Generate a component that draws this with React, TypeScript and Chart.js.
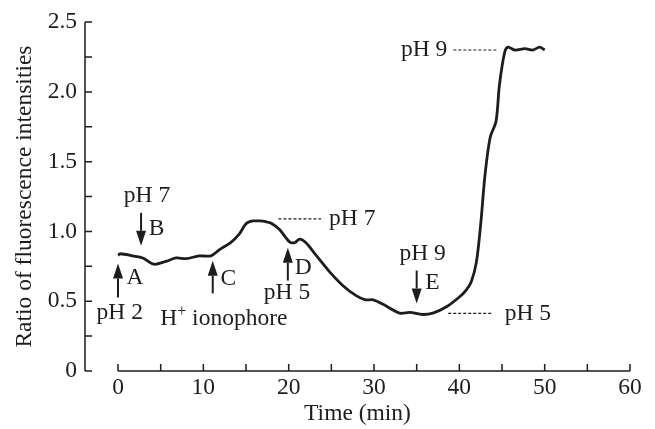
import React, { useEffect, useRef } from 'react';
import { Chart, registerables } from 'chart.js';
Chart.register(...registerables);

// ---- data ----
const times = [0, 0.3, 1.7, 2.9, 4.2, 5.6, 6.8, 8.0, 9.5, 10.9, 11.9, 13.2, 14.2, 15.0, 15.8, 16.6, 17.3, 17.9, 18.9, 20.1, 20.7, 21.3, 22.0, 23.2, 24.8, 26.3, 27.9, 29.0, 29.9, 31.0, 33.0, 34.2, 35.7, 36.9, 38.5, 40.0, 40.8, 41.4, 42.0, 42.5, 43.0, 43.6, 44.3, 44.7, 45.3, 45.7, 46.5, 47.7, 48.6, 49.4, 50.0];
const ratios = [0.83, 0.84, 0.825, 0.81, 0.765, 0.785, 0.81, 0.805, 0.825, 0.825, 0.87, 0.92, 0.98, 1.055, 1.075, 1.075, 1.07, 1.06, 1.015, 0.925, 0.92, 0.945, 0.92, 0.83, 0.71, 0.615, 0.54, 0.51, 0.51, 0.48, 0.415, 0.42, 0.405, 0.415, 0.46, 0.53, 0.58, 0.64, 0.78, 1.05, 1.4, 1.67, 1.79, 2.05, 2.28, 2.32, 2.30, 2.31, 2.30, 2.32, 2.30];

const xTicks = [0, 5, 10, 15, 20, 25, 30, 35, 40, 45, 50, 55, 60];
const yTicks = [0, 0.25, 0.5, 0.75, 1.0, 1.25, 1.5, 1.75, 2.0, 2.25, 2.5];

// arrows: time, tail value, tip value
const arrowTimes = [0, 2.7, 11.1, 19.9, 35.0];
const arrowTails = [0.527, 1.133, 0.556, 0.648, 0.72];
const arrowTips = [0.77, 0.897, 0.79, 0.883, 0.484];
const arrowLetters = ['A', 'B', 'C', 'D', 'E'];
const letterTimes = [1.0, 3.6, 12.0, 20.7, 36.0];
const letterValues = [0.67, 1.02, 0.662, 0.74, 0.634];

// centered labels
const labelTexts = ['pH 2', 'pH 7', 'pH 5', 'pH 9'];
const labelTimes = [0.2, 3.4, 19.8, 35.7];
const labelValues = [0.42, 1.254, 0.563, 0.84];
const ionophoreTime = 12.4;
const ionophoreValue = 0.377;

// dashed reference levels
const levelTexts = ['pH 7', 'pH 5', 'pH 9'];
const levelValues = [1.09, 0.413, 2.30];
const levelStarts = [18.8, 38.7, 39.3];
const levelEnds = [23.8, 43.8, 44.5];
const levelTextSide = ['right', 'right', 'left'];
const levelTextGap = [8, 13, 6];

const FONT = '"Liberation Serif", "Times New Roman", serif';
const INK = '#1e1c1d';
const FS = 23.5;

const overlay = {
  id: 'overlay',
  afterDraw(chart: any) {
    const { ctx, scales } = chart;
    const xs = scales.x;
    const ys = scales.y;
    const X = (v: number) => xs.getPixelForValue(v);
    const Y = (v: number) => ys.getPixelForValue(v);
    ctx.save();
    ctx.strokeStyle = INK;
    ctx.fillStyle = INK;
    ctx.lineWidth = 1.5;
    // y axis
    const ax = chart.chartArea.left;
    ctx.beginPath();
    ctx.moveTo(ax, Y(2.5));
    ctx.lineTo(ax, Y(0));
    yTicks.forEach((v) => {
      ctx.moveTo(ax, Y(v));
      ctx.lineTo(ax + 7, Y(v));
    });
    // x axis
    const y0 = Y(0);
    ctx.moveTo(X(0), y0);
    ctx.lineTo(X(60), y0);
    xTicks.forEach((v) => {
      ctx.moveTo(X(v), y0);
      ctx.lineTo(X(v), y0 - 7);
    });
    ctx.stroke();

    // arrows
    ctx.lineWidth = 2;
    arrowTimes.forEach((t, i) => {
      const x = X(t);
      const yt = Y(arrowTails[i]);
      const yp = Y(arrowTips[i]);
      const dir = yp < yt ? -1 : 1;
      const hl = 15;
      const hw = 5;
      ctx.beginPath();
      ctx.moveTo(x, yt);
      ctx.lineTo(x, yp - dir * hl);
      ctx.stroke();
      ctx.beginPath();
      ctx.moveTo(x, yp);
      ctx.lineTo(x - hw, yp - dir * hl);
      ctx.lineTo(x + hw, yp - dir * hl);
      ctx.closePath();
      ctx.fill();
    });

    ctx.font = `${FS}px ${FONT}`;
    ctx.textBaseline = 'middle';
    ctx.textAlign = 'left';
    arrowLetters.forEach((s, i) => {
      ctx.fillText(s, X(letterTimes[i]), Y(letterValues[i]));
    });
    ctx.textAlign = 'center';
    labelTexts.forEach((s, i) => {
      ctx.fillText(s, X(labelTimes[i]), Y(labelValues[i]));
    });
    // H+ ionophore
    {
      const main1 = 'H';
      const sup = '+';
      const main2 = ' ionophore';
      const supSize = Math.round(FS * 0.7);
      ctx.font = `${FS}px ${FONT}`;
      const w1 = ctx.measureText(main1).width;
      const w3 = ctx.measureText(main2).width;
      ctx.font = `${supSize}px ${FONT}`;
      const w2 = ctx.measureText(sup).width;
      const total = w1 + w2 + w3;
      let x = X(ionophoreTime) - total / 2;
      const y = Y(ionophoreValue);
      ctx.textAlign = 'left';
      ctx.font = `${FS}px ${FONT}`;
      ctx.fillText(main1, x, y);
      x += w1;
      ctx.font = `${supSize}px ${FONT}`;
      ctx.fillText(sup, x, y - 7);
      x += w2;
      ctx.font = `${FS}px ${FONT}`;
      ctx.fillText(main2, x, y);
    }
    // dashed levels
    ctx.lineWidth = 1.2;
    ctx.setLineDash([3, 2]);
    levelValues.forEach((v, i) => {
      ctx.beginPath();
      ctx.moveTo(X(levelStarts[i]), Y(v));
      ctx.lineTo(X(levelEnds[i]), Y(v));
      ctx.stroke();
    });
    ctx.setLineDash([]);
    levelTexts.forEach((s, i) => {
      if (levelTextSide[i] === 'right') {
        ctx.textAlign = 'left';
        ctx.fillText(s, X(levelEnds[i]) + levelTextGap[i], Y(levelValues[i]));
      } else {
        ctx.textAlign = 'right';
        ctx.fillText(s, X(levelStarts[i]) - levelTextGap[i], Y(levelValues[i]));
      }
    });
    ctx.restore();
  },
};

export default function App() {
  const ref = useRef<HTMLCanvasElement | null>(null);
  useEffect(() => {
    if (!ref.current) return;
    const chart = new Chart(ref.current, {
      type: 'line',
      data: {
        datasets: [
          {
            data: times.map((t, i) => ({ x: t, y: ratios[i] })),
            borderColor: INK,
            borderWidth: 2.8,
            pointRadius: 0,
            tension: 0.3,
            fill: false,
          },
        ],
      },
      options: {
        animation: false,
        responsive: true,
        maintainAspectRatio: false,
        devicePixelRatio: 1,
        layout: { padding: { left: 0, top: 20, right: 25, bottom: 0 } },
        plugins: { legend: { display: false }, tooltip: { enabled: false } },
        scales: {
          x: {
            type: 'linear',
            min: -3.87,
            max: 60,
            grid: { display: false, drawTicks: false },
            border: { display: false },
            afterBuildTicks: (s: any) => {
              s.ticks = xTicks.map((v) => ({ value: v }));
            },
            afterFit: (s: any) => {
              s.height = 58;
            },
            ticks: {
              autoSkip: false,
              maxRotation: 0,
              padding: 3,
              color: INK,
              font: { family: FONT, size: FS },
              callback: (v: any) => (Number(v) % 10 === 0 ? String(v) : ''),
            },
            title: {
              display: true,
              text: 'Time (min)',
              color: INK,
              font: { family: FONT, size: FS },
              padding: 1,
            },
          },
          y: {
            type: 'linear',
            min: 0,
            max: 2.5,
            grid: { display: false, drawTicks: false },
            border: { display: false },
            afterBuildTicks: (s: any) => {
              s.ticks = yTicks.map((v) => ({ value: v }));
            },
            afterFit: (s: any) => {
              s.width = 85;
            },
            ticks: {
              autoSkip: false,
              padding: 8,
              color: INK,
              font: { family: FONT, size: FS },
              callback: (v: any) => {
                const n = Number(v);
                if (Math.abs(n * 2 - Math.round(n * 2)) > 1e-6) return '';
                return n === 0 ? '0' : n.toFixed(1);
              },
            },
            title: {
              display: true,
              text: 'Ratio of fluorescence intensities',
              color: INK,
              font: { family: FONT, size: FS },
              padding: 11,
            },
          },
        },
      },
      plugins: [overlay],
    });
    return () => chart.destroy();
  }, []);
  return (
    <div style={{ position: 'absolute', left: 0, top: 0, width: 655, height: 429, background: '#fff' }}>
      <canvas ref={ref} />
    </div>
  );
}
